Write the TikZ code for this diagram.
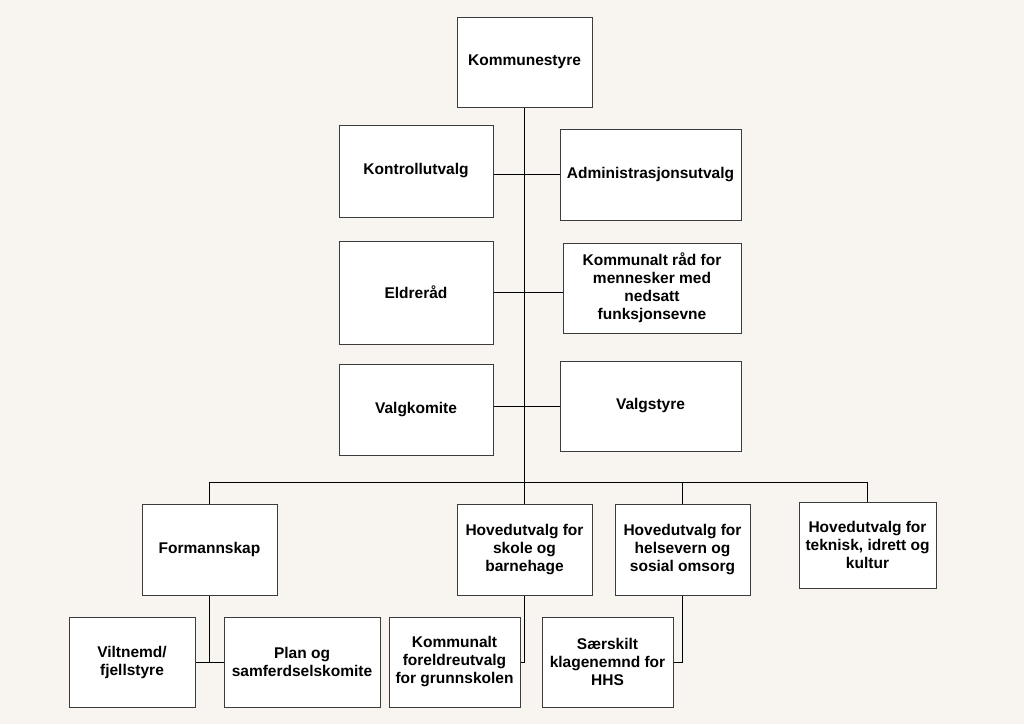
\documentclass[tikz,border=0pt]{standalone}
\usepackage{fontspec}
\setmainfont{Liberation Sans}
\usepackage{tikz}

\definecolor{bakgrunn}{HTML}{F8F5F0}
\definecolor{kant}{HTML}{3C3C3C}
\tikzset{
  boks/.style={draw=kant, line width=1pt, fill=white, align=center, inner sep=2pt,
    font=\fontsize{15.5}{18}\selectfont\bfseries},
  linje/.style={line width=1pt, black}
}

\begin{document}
\begin{tikzpicture}[x=1pt, y=-1pt]
  \fill[bakgrunn] (0,0) rectangle (1024,724);
  \node[boks, minimum width=135, minimum height=90] (kst) at (524.5,62) {Kommunestyre};
  \node[boks, minimum width=154, minimum height=92] (kontroll) at (416,171) {Kontrollutvalg};
  \node[boks, minimum width=181, minimum height=91] (admin) at (650.5,174.5) {Administrasjonsutvalg};
  \node[boks, minimum width=154, minimum height=103] (eldre) at (416,292.5) {Eldreråd};
  \node[boks, minimum width=178, minimum height=90] (raad) at (652,288) {Kommunalt råd for\\mennesker med\\nedsatt\\funksjonsevne};
  \node[boks, minimum width=154, minimum height=91] (valgkom) at (416,409.5) {Valgkomite};
  \node[boks, minimum width=181, minimum height=90] (valgstyre) at (650.5,406) {Valgstyre};
  \node[boks, minimum width=135, minimum height=91] (formann) at (209.5,549.5) {Formannskap};
  \node[boks, minimum width=135, minimum height=91] (skole) at (524.5,549.5) {Hovedutvalg for\\skole og\\barnehage};
  \node[boks, minimum width=135, minimum height=91] (helse) at (682.5,549.5) {Hovedutvalg for\\helsevern og\\sosial omsorg};
  \node[boks, minimum width=137, minimum height=86] (teknisk) at (867.5,545) {Hovedutvalg for\\teknisk, idrett og\\kultur};
  \node[boks, minimum width=126, minimum height=90] (vilt) at (132,662) {Viltnemd/\\fjellstyre};
  \node[boks, minimum width=156, minimum height=90] (plan) at (302,662) {Plan og\\samferdselskomite};
  \node[boks, minimum width=131, minimum height=90] (foreldre) at (454.5,662) {Kommunalt\\foreldreutvalg\\for grunnskolen};
  \node[boks, minimum width=131, minimum height=90] (saerskilt) at (607.5,662) {Særskilt\\klagenemnd for\\HHS};
  \coordinate (buss) at (524.5,482);
  \draw[linje] (kst.south) -- (buss)
    (kontroll.east |- admin.west) -- (admin.west)
    (eldre.east) -- (eldre.east -| raad.west)
    (valgkom.east |- valgstyre.west) -- (valgstyre.west)
    (formann.north) |- (buss) -| (teknisk.north)
    (buss) -- (skole.north)
    (helse.north) -- (helse.north |- buss)
    (formann.south) -- (formann.south |- vilt.east)
    (vilt.east) -- (plan.west)
    (skole.south) |- (foreldre.east)
    (helse.south) |- (saerskilt.east);
\end{tikzpicture}
\end{document}
